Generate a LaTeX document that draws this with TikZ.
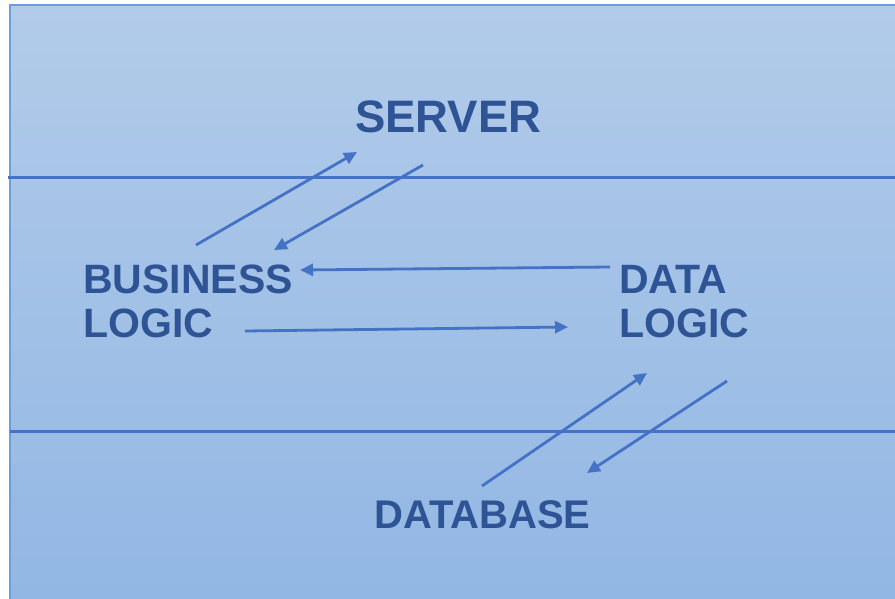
\documentclass[tikz,border=0pt]{standalone}
\usepackage{fontspec}
\setmainfont{Liberation Sans}
\usetikzlibrary{arrows.meta}
\definecolor{txt}{RGB}{46,84,150}
\definecolor{ln}{RGB}{68,114,196}
\definecolor{bgtop}{RGB}{178,203,233}
\definecolor{bgbot}{RGB}{146,183,228}
\definecolor{edgec}{RGB}{106,159,220}
\begin{document}
\begin{tikzpicture}[x=1pt,y=-1pt,
  lbl/.style={inner sep=0pt, anchor=base west, text=txt, font=\fontsize{41}{45}\selectfont\bfseries},
  big/.style={lbl, font=\fontsize{45.5}{50}\selectfont\bfseries},
  small/.style={lbl, font=\fontsize{40}{44}\selectfont\bfseries},
  conn/.style={draw=ln, line width=2.8pt, -{Triangle[length=13pt,width=12pt]}},
  band/.style={draw=ln, line width=3pt}]
\useasboundingbox (0,0) rectangle (895,599);
\fill[white] (0,0) rectangle (895,599);
\shade[top color=bgtop, bottom color=bgbot] (10,5) rectangle (895,599);
\draw[edgec, line width=2pt] (10,599) -- (10,5) -- (895,5);
% band lines
\coordinate (h1l) at (8,178); \coordinate (h1r) at (895,178);
\coordinate (h2l) at (10,431); \coordinate (h2r) at (895,431);
\draw[band] (h1l) -- (h1r);
\draw[band] (h2l) -- (h2r);
% labels
\node[big] (server) at (355,133) {SERVER};
\node[lbl] (bus1) at (83,293) {BUSINESS};
\node[lbl] (bus2) at (83,337) {LOGIC};
\node[lbl] (dat1) at (619,293) {DATA};
\node[lbl] (dat2) at (619,337) {LOGIC};
\node[small] (db) at (374,528) {DATABASE};
% arrow end points
\coordinate (a1s) at (196,245); \coordinate (a1e) at (357,152);
\coordinate (a2s) at (423,165); \coordinate (a2e) at (274,250);
\coordinate (a3s) at (610,267); \coordinate (a3e) at (300,270);
\coordinate (a4s) at (245,331); \coordinate (a4e) at (568,327);
\coordinate (a5s) at (482,486); \coordinate (a5e) at (647,373);
\coordinate (a6s) at (727,381); \coordinate (a6e) at (587,473);
\draw[conn] (a1s) -- (a1e);
\draw[conn] (a2s) -- (a2e);
\draw[conn] (a3s) -- (a3e);
\draw[conn] (a4s) -- (a4e);
\draw[conn] (a5s) -- (a5e);
\draw[conn] (a6s) -- (a6e);
\end{tikzpicture}
\end{document}
